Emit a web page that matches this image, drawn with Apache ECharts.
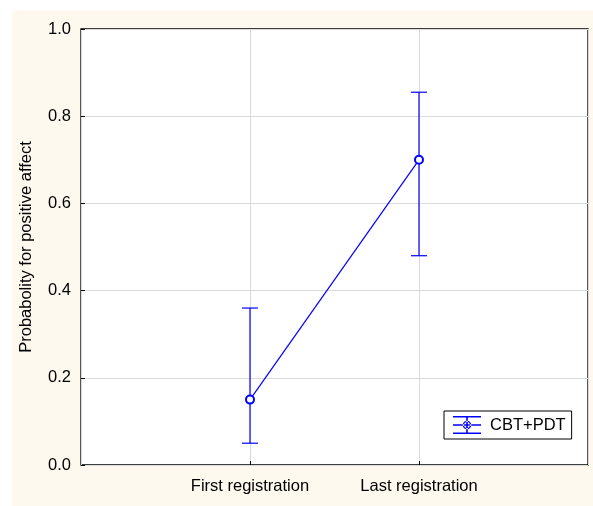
<!DOCTYPE html>
<html>
<head>
<meta charset="utf-8">
<script src="https://cdn.jsdelivr.net/npm/echarts@6/dist/echarts.min.js"></script>
<style>html,body{margin:0;padding:0;background:#fff}#c{width:593px;height:506px}</style>
</head>
<body>
<div id="c"></div>
<script>
var categories = ['First registration', 'Last registration'];
var means = [0.15, 0.70];
var lower = [0.05, 0.48];
var upper = [0.36, 0.855];
var yTicks = [0.0, 0.2, 0.4, 0.6, 0.8, 1.0];
var seriesName = 'CBT+PDT';

var chart = echarts.init(document.getElementById('c'));
var lineData = means.map(function (v, i) { return [i + 1, v]; });
var errData = means.map(function (v, i) { return [i + 1, lower[i], upper[i]]; });
var font = 'Arial, "Liberation Sans", sans-serif';
var fs = 16.5;
var blue = '#0000ff';

var iconPath = 'path://M0 1H28V2.6H0Z M0 9.2H28V10.8H0Z M0 17.4H28V19H0Z M13.2 1H14.8V19H13.2Z ' +
  'M18.3 10A4.3 4.3 0 1 0 9.7 10A4.3 4.3 0 1 0 18.3 10Z M16.9 10A2.9 2.9 0 1 1 11.1 10A2.9 2.9 0 1 1 16.9 10Z';

chart.setOption({
  backgroundColor: '#ffffff',
  animation: false,
  graphic: [{
    type: 'rect', z: -10, silent: true,
    shape: { x: 12, y: 10, width: 581, height: 496 },
    style: { fill: '#fdf9ef' }
  }],
  grid: {
    left: 81, top: 29, right: 5, bottom: 41,
    show: true, backgroundColor: '#ffffff', borderColor: '#000000', borderWidth: 1.3
  },
  legend: {
    left: 444, top: 411,
    padding: [5, 6, 5, 9],
    borderColor: '#000000', borderWidth: 1, borderRadius: 0,
    backgroundColor: '#ffffff',
    itemWidth: 28, itemHeight: 20, itemGap: 5,
    itemStyle: { borderWidth: 0 },
    textStyle: { fontFamily: font, fontSize: fs, color: '#000000', padding: [0, 0, 0, 4] },
    data: [{ name: seriesName, icon: iconPath, itemStyle: { color: blue, borderWidth: 0 } }]
  },
  xAxis: {
    type: 'value', min: 0, max: 3, interval: 1,
    axisLine: { show: false },
    axisTick: { show: true, inside: true, length: 4, lineStyle: { color: '#000' } },
    splitLine: { show: true, lineStyle: { color: '#d9d9d9', width: 1 } },
    axisLabel: {
      margin: 13, fontFamily: font, fontSize: fs, color: '#000',
      showMinLabel: false, showMaxLabel: false,
      formatter: function (v) { return categories[v - 1] || ''; }
    }
  },
  yAxis: {
    type: 'value', min: 0, max: 1, interval: 0.2,
    name: 'Probabolity for positive affect',
    nameLocation: 'middle', nameGap: 46, nameRotate: 90,
    nameTextStyle: { fontFamily: font, fontSize: fs, color: '#000' },
    axisLine: { show: false },
    axisTick: { show: true, inside: true, length: 4, lineStyle: { color: '#000' } },
    splitLine: { show: true, lineStyle: { color: '#d9d9d9', width: 1 } },
    axisLabel: {
      margin: 10, fontFamily: font, fontSize: fs, color: '#000',
      formatter: function (v) {
        var t = yTicks.filter(function (k) { return Math.abs(k - v) < 1e-9; });
        return t.length ? t[0].toFixed(1) : '';
      }
    }
  },
  series: [{
    name: seriesName,
    type: 'custom',
    data: errData,
    z: 2,
    itemStyle: { color: blue },
    renderItem: function (params, api) {
      var x = api.value(0);
      var lo = api.coord([x, api.value(1)]);
      var hi = api.coord([x, api.value(2)]);
      var hw = 8;
      var st = { stroke: blue, lineWidth: 1.2, fill: null };
      return {
        type: 'group',
        children: [
          { type: 'line', shape: { x1: lo[0], y1: lo[1], x2: hi[0], y2: hi[1] }, style: st },
          { type: 'line', shape: { x1: lo[0] - hw, y1: lo[1], x2: lo[0] + hw, y2: lo[1] }, style: st },
          { type: 'line', shape: { x1: hi[0] - hw, y1: hi[1], x2: hi[0] + hw, y2: hi[1] }, style: st }
        ]
      };
    }
  }, {
    name: seriesName + ' mean',
    type: 'line',
    data: lineData,
    symbol: 'emptyCircle', symbolSize: 8,
    lineStyle: { color: blue, width: 1.2 },
    itemStyle: { color: blue, borderColor: blue, borderWidth: 1 },
    emphasis: { disabled: true },
    z: 3
  }]
});
</script>
</body>
</html>
